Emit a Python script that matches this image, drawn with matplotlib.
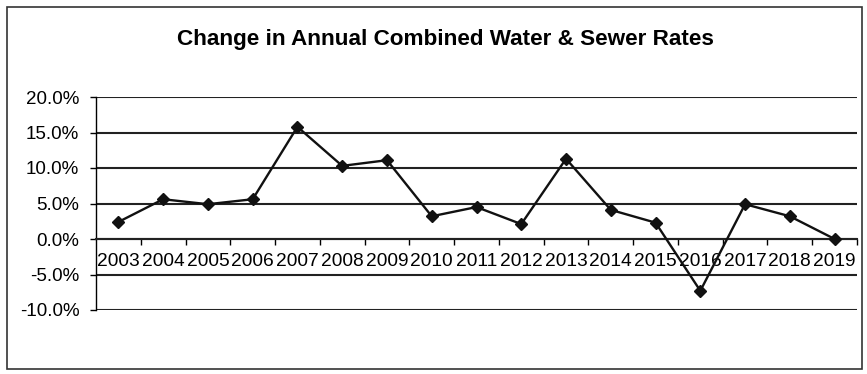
import matplotlib.pyplot as plt
from matplotlib.patches import Rectangle
from matplotlib.ticker import FixedLocator, FuncFormatter

years = ['2003', '2004', '2005', '2006', '2007', '2008', '2009', '2010', '2011',
         '2012', '2013', '2014', '2015', '2016', '2017', '2018', '2019']
change = [2.4, 5.6, 4.9, 5.6, 15.8, 10.3, 11.1, 3.2, 4.5,
          2.1, 11.3, 4.1, 2.3, -7.3, 4.9, 3.2, 0.0]
yticks = [-10, -5, 0, 5, 10, 15, 20]

W, H = 867, 374
fig = plt.figure(figsize=(W / 100, H / 100), dpi=100)
plt.rcParams['font.family'] = ['Liberation Sans', 'DejaVu Sans']

# outer chart border
fig.patches.append(Rectangle((7 / W, 5 / H), 855 / W, 362 / H, transform=fig.transFigure,
                             fill=False, edgecolor='#333333', linewidth=1.2))

fig.text(445 / W, 1 - 40 / H, 'Change in Annual Combined Water & Sewer Rates',
         ha='center', va='center', fontsize=16.2, fontweight='bold')

ax = fig.add_axes([96 / W, 64 / H, 761 / W, 213 / H])
x = list(range(len(years)))
ax.plot(x, change, color='#111111', linewidth=1.7, marker='D', markersize=6, zorder=3)

ax.set_xlim(-0.5, len(years) - 0.5)
ax.set_ylim(-10, 20)
ax.set_yticks(yticks)
ax.yaxis.set_major_formatter(FuncFormatter(lambda v, p: '%.1f%%' % v))
ax.grid(axis='y', color='#222222', linewidth=1.5)
ax.set_axisbelow(True)

ax.spines['top'].set_visible(False)
ax.spines['right'].set_visible(False)
ax.spines['left'].set_linewidth(1.0)
# category axis sits on the 0 % line
ax.spines['bottom'].set_position(('data', 0))
ax.spines['bottom'].set_linewidth(1.5)
ax.spines['bottom'].set_color('#222222')

ax.set_xticks(x)
ax.set_xticklabels(years)
ax.xaxis.set_minor_locator(FixedLocator([i + 0.5 for i in x]))
ax.tick_params(axis='x', which='major', length=0, pad=10, labelsize=13.8)
ax.tick_params(axis='x', which='minor', length=4.5, width=1.0, direction='out')
ax.tick_params(axis='y', length=4, width=1.0, pad=8, labelsize=13.5)

fig.savefig('out.png', dpi=100)
